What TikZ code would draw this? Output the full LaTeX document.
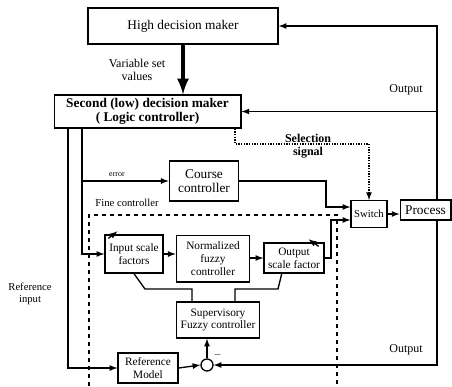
\documentclass[tikz,border=0pt]{standalone}
\usepackage{fontspec}
\setmainfont{Liberation Serif}
\usetikzlibrary{calc}
\begin{document}
\begin{tikzpicture}[x=0.75pt,y=-0.75pt,>=latex,
    blk/.style={shape=rectangle,draw=black,line width=1pt,align=center,inner sep=1pt,font=\fontsize{10}{11}\selectfont},
    sblk/.style={blk,font=\fontsize{8.5}{9.5}\selectfont},
    wire/.style={draw=black,line width=1pt},
    lbl/.style={align=center,inner sep=1pt,font=\fontsize{9}{10}\selectfont}]
    \useasboundingbox (0,0) rectangle (452,386);

    \node[blk,minimum width=142.5pt,minimum height=27pt] (High) at (183,26) {High decision maker};
    \node[blk,minimum width=140pt,minimum height=24.75pt,font=\fontsize{10}{11}\selectfont\bfseries] (Low) at (147.5,111.5) {Second (low) decision maker\\( Logic controller)};
    \node[blk,minimum width=52pt,minimum height=30pt] (Course) at (204,181) {Course\\controller};
    \node[blk,minimum width=27pt,minimum height=20pt,font=\fontsize{8}{9}\selectfont] (Switch) at (369,214) {Switch};
    \node[blk,minimum width=38pt,minimum height=15pt] (Proc) at (425.5,210) {Process};

    \node[sblk,minimum width=43.5pt,minimum height=28.5pt] (InSF) at (134,254) {Input scale\\factors};
    \node[sblk,minimum width=55pt,minimum height=35pt] (Norm) at (213,258.5) {Normalized\\fuzzy\\controller};
    \node[sblk,minimum width=45pt,minimum height=22.5pt] (OutSF) at (294,258) {Output\\scale factor};
    \node[sblk,minimum width=62pt,minimum height=27pt] (Sup) at (218,320) {Supervisory\\Fuzzy controller};
    \node[sblk,minimum width=45pt,minimum height=22.5pt] (RefM) at (148,368) {Reference\\Model};
    \node[shape=circle,draw=black,line width=1pt,minimum size=9pt,inner sep=0pt] (Sum) at (207,365) {};

    % bend points
    \coordinate (RT) at (437,26);
    \coordinate (RM) at (437,111.5);
    \coordinate (RB) at (437,365);
    \coordinate (SelA) at (235,144);
    \coordinate (SelB) at (369,144);
    \coordinate (Ref) at (68,368);
    \coordinate (Err) at (82,181);
    \coordinate (Fine) at (82,254);
    \coordinate (CS) at (326,207);
    \coordinate (OS) at (331,220);
    \coordinate (SA) at (192,289);
    \coordinate (SB) at (145,289);
    \coordinate (SC) at (235,289);
    \coordinate (SD) at (278,289);

    % fine controller frame
    \draw[dashed,line width=1pt] (89,386) -- (89,215) -- (337,215) -- (337,386);

    \draw[line width=3pt,->] (High.south) -- (High.south |- Low.north);
    \draw[wire,->] (Proc.north -| RT) -- (RT) -- (High.east);
    \draw[wire,->] (RM) -- (Low.east);
    \draw[wire,->] (Proc.south -| RB) -- (RB) -- (Sum.east);
    \draw[line width=1pt,densely dotted,->] (Low.south -| SelA) -- (SelA) -- (SelB) -- (Switch.north);

    \draw[wire,->] (Low.south -| Ref) -- (Ref) -- (RefM.west);
    \draw[wire,->] (Low.south -| Err) -- (Fine) -- (InSF.west);
    \draw[wire,->] (Err) -- (Course.west);
    \draw[wire,->] (Course.east) -| (CS) -- (CS -| Switch.west);
    \draw[wire,->] (OutSF.east) -| (OS) -- (OS -| Switch.west);
    \draw[wire,->] (Switch.east) -- (Switch.east -| Proc.west);

    \draw[wire,->] (InSF.east) -- (InSF.east -| Norm.west);
    \draw[wire,->] (Norm.east |- OutSF.west) -- (OutSF.west);
    \draw[wire] (Sup.north -| SA) -- (SA) -- (SB) -- (InSF.south);
    \draw[wire] (Sup.north -| SC) -- (SC) -- (SD) -- ($(OutSF.south west)!0.3!(OutSF.south east)$);
    \draw[wire,->] ($(InSF.north west)+(4,4)$) -- ++(9,-7);
    \draw[wire,->] ($(OutSF.north east)+(-6,4)$) -- ++(-10,-7);

    \draw[wire,->] (RefM.east) -- (Sum.west);
    \draw[wire,->] (Sum.north) -- (Sum.north |- Sup.south);
    \node[lbl,anchor=south west,font=\fontsize{7}{8}\selectfont] at (Sum.north east) {$-$};

    % labels
    \node[lbl] (VarSet) at (137,70) {Variable set\\values};
    \node[lbl] (OutTop) at (406,90) {Output};
    \node[lbl] (OutBot) at (406,350) {Output};
    \node[lbl,font=\fontsize{9}{10}\selectfont\bfseries] (SelSig) at (308,146) {Selection\\signal};
    \node[lbl,font=\fontsize{8}{9}\selectfont] (FineLbl) at (127,203) {Fine controller};
    \node[lbl,font=\fontsize{6}{7}\selectfont] (ErrLbl) at (117,175) {error};
    \node[lbl,font=\fontsize{8}{9}\selectfont] (RefIn) at (30,294) {Reference\\input};
\end{tikzpicture}
\end{document}
